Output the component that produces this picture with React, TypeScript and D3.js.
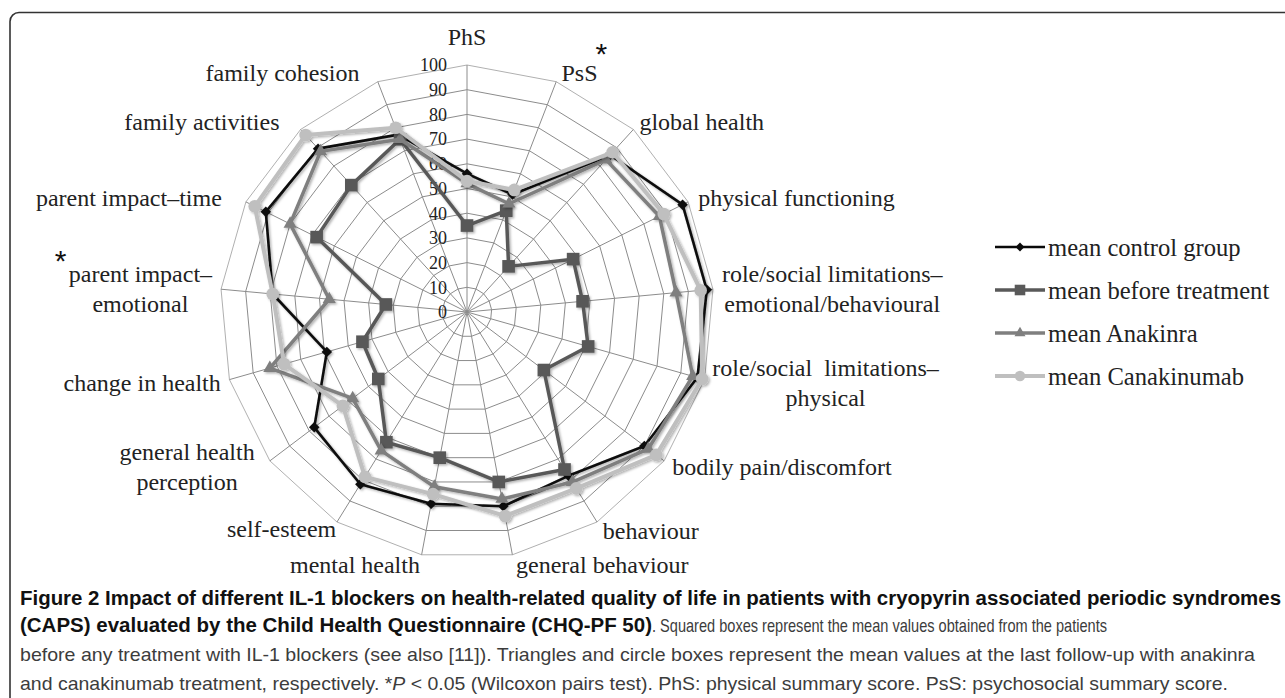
import React from "react";
import * as d3 from "d3";

const width = 1285;
const height = 698;
const cx = 467;
const cy = 312;
const R = 247;

// axis labels, clockwise from the top
const axisLabels: string[][] = [
  ["PhS"],
  ["PsS"],
  ["global health"],
  ["physical functioning"],
  ["role/social limitations–", "emotional/behavioural"],
  ["role/social  limitations–", "physical"],
  ["bodily pain/discomfort"],
  ["behaviour"],
  ["general behaviour"],
  ["mental health"],
  ["self-esteem"],
  ["general health", "perception"],
  ["change in health"],
  ["parent impact–", "emotional"],
  ["parent impact–time"],
  ["family activities"],
  ["family cohesion"]
];
const significant = [false, true, false, false, false, false, false, false, false, false, false, false, false, true, false, false, false];

const controlGroup = [56, 51, 86, 97.5, 97.5, 97, 90, 78, 80, 79, 82, 77.5, 59, 79, 91, 89.5, 77];
const beforeTreatment = [35, 44, 25, 48, 47, 51, 39, 75, 70, 60, 62, 45, 44, 33, 68, 69.5, 75];
const anakinra = [52, 47, 83.5, 87, 85, 95, 92, 81, 77, 72, 66, 58, 83, 56, 80, 88, 75];
const canakinumab = [53, 53, 87.5, 89, 95, 99, 96, 84, 84, 75, 78.5, 63, 77, 79, 96, 97, 80];

const ticks = [0, 10, 20, 30, 40, 50, 60, 70, 80, 90, 100];
const seriesNames = ["mean control group", "mean before treatment", "mean Anakinra", "mean Canakinumab"];

const captionLine1 = "Figure 2 Impact of different IL-1 blockers on health-related quality of life in patients with cryopyrin associated periodic syndromes";
const captionLine2Bold = "(CAPS) evaluated by the Child Health Questionnaire (CHQ-PF 50)";
const captionLine2 = ". Squared boxes represent the mean values obtained from the patients";
const captionLine3 = "before any treatment with IL-1 blockers (see also [11]). Triangles and circle boxes represent the mean values at the last follow-up with anakinra";
const captionLine4 = ["and canakinumab treatment, respectively. *", "P", " < 0.05 (Wilcoxon pairs test). PhS: physical summary score. PsS: psychosocial summary score."];

// label nudges (layout only)
const labelShift: [number, number][] = [
  [0, -18], [2, 0], [0, 0], [2, 0], [0, 0], [-1, 0], [1, 0], [1, 0], [2, 0],
  [0, 0], [4, -2], [-8, 0], [0, 0], [0, 0], [-16, 0], [-15, 0], [-15, 0]
];

const serif = "'Liberation Serif', 'Times New Roman', serif";
const sans = "'Liberation Sans Narrow', 'Liberation Sans', Arial, sans-serif";
const labelSize = 24;

let ctx: CanvasRenderingContext2D | null = null;
function measure(s: string, size: number, family = serif, style = "") {
  if (!ctx) ctx = document.createElement("canvas").getContext("2d");
  if (!ctx) return s.length * size * 0.45;
  ctx.font = `${style} ${size}px ${family}`;
  return ctx.measureText(s).width;
}

const n = axisLabels.length;
const angle = d3.scaleLinear().domain([0, n]).range([0, 2 * Math.PI]);
const r = d3.scaleLinear().domain([0, 100]).range([0, R]);

const polar = (i: number, rad: number): [number, number] => [
  cx + rad * Math.sin(angle(i)),
  cy - rad * Math.cos(angle(i))
];

const radial = d3
  .lineRadial<number>()
  .angle((d, i) => angle(i))
  .radius(d => r(d))
  .curve(d3.curveLinearClosed);

const series = [
  { name: seriesNames[0], values: controlGroup, color: "#0a0a0a", lw: 2.6, sym: d3.symbolSquare, size: 55, rot: 45 },
  { name: seriesNames[1], values: beforeTreatment, color: "#595959", lw: 3.5, sym: d3.symbolSquare, size: 160, rot: 0 },
  { name: seriesNames[2], values: anakinra, color: "#7f7f7f", lw: 3.5, sym: d3.symbolTriangle, size: 75, rot: 0 },
  { name: seriesNames[3], values: canakinumab, color: "#bfbfbf", lw: 4, sym: d3.symbolCircle, size: 125, rot: 0 }
];

export default function App() {
  const ringPts = (v: number) =>
    d3.range(n).map(i => polar(i, r(v)).join(",")).join(" ");

  const labels = axisLabels.map((lines, i) => {
    const s = Math.sin(angle(i));
    const c = Math.cos(angle(i));
    const [ox, oy] = polar(i, R);
    const anchorX = ox + 9 * s + labelShift[i][0];
    const centerY = oy - 10 * c + labelShift[i][1];
    const w = d3.max(lines, l => measure(l, labelSize)) || 0;
    let midX = anchorX;
    if (Math.abs(s) > 0.05) midX = s > 0 ? anchorX + w / 2 : anchorX - w / 2;
    const lh = 30;
    const top = centerY - ((lines.length - 1) * lh) / 2;
    return { lines, midX, top, w, lh, centerY };
  });

  // last caption line: split pieces, squeezed together to the reference width
  const capSize = 19;
  const pieceW = captionLine4.map((p, k) => measure(p, capSize, sans, k === 1 ? "italic" : ""));
  const k4 = 1208 / d3.sum(pieceW);
  let acc = 20;
  const pieces4 = captionLine4.map((p, k) => {
    const x = acc;
    const w = pieceW[k] * k4;
    acc += w;
    return { p, x, w, italic: k === 1 };
  });

  return (
    <svg
      width={width}
      height={height}
      style={{ position: "absolute", left: 0, top: 0, background: "#fff" }}
    >
      <defs>
        <filter id="sh" x="-10%" y="-10%" width="120%" height="120%">
          <feDropShadow dx="1.5" dy="1.5" stdDeviation="1.2" floodColor="#000" floodOpacity="0.3" />
        </filter>
      </defs>
      <rect x={10} y={12.5} width={1400} height={800} rx={9} fill="none" stroke="#333" strokeWidth={1.6} />

      {/* grid rings */}
      {ticks.slice(1).map(v => (
        <polygon
          key={v}
          points={ringPts(v)}
          fill="none"
          stroke={v === 100 ? "#b0b0b0" : "#8c8c8c"}
          strokeWidth={1}
        />
      ))}
      {/* spokes */}
      {d3.range(n).map(i => {
        const [x, y] = polar(i, R);
        return <line key={i} x1={cx} y1={cy} x2={x} y2={y} stroke="#8c8c8c" strokeWidth={1} />;
      })}
      {/* tick labels */}
      {ticks.map(v => (
        <text
          key={v}
          x={cx - 20}
          y={cy - r(v)}
          dy="0.35em"
          textAnchor="end"
          fontFamily={serif}
          fontSize={18}
          fill="#222"
        >
          {v}
        </text>
      ))}

      {/* series */}
      {series.map(s => (
        <g key={s.name} filter="url(#sh)">
          <path
            d={radial(s.values) || ""}
            transform={`translate(${cx},${cy})`}
            fill="none"
            stroke={s.color}
            strokeWidth={s.lw}
            strokeLinejoin="round"
          />
          {s.values.map((v, i) => {
            const [x, y] = polar(i, r(v));
            return (
              <path
                key={i}
                d={d3.symbol(s.sym, s.size)() || ""}
                transform={`translate(${x},${y}) rotate(${s.rot})`}
                fill={s.color}
              />
            );
          })}
        </g>
      ))}

      {/* axis labels */}
      {labels.map((l, i) => (
        <g key={i}>
          {l.lines.map((line, j) => (
            <text
              key={j}
              x={l.midX}
              y={l.top + j * l.lh}
              dy="0.35em"
              textAnchor="middle"
              fontFamily={serif}
              fontSize={labelSize}
              fill="#222"
              style={{ whiteSpace: "pre" }}
            >
              {line}
            </text>
          ))}
          {significant[i] && i === 1 && (
            <text x={l.midX + l.w / 2 - 2} y={l.centerY - 8} fontFamily={sans} fontSize={30} fill="#111">
              *
            </text>
          )}
          {significant[i] && i !== 1 && (
            <text x={l.midX - l.w / 2 - 14} y={l.top - 2} fontFamily={sans} fontSize={30} fill="#111">
              *
            </text>
          )}
        </g>
      ))}

      {/* legend */}
      {series.map((s, k) => {
        const y = 247 + k * 43;
        return (
          <g key={s.name}>
            <line x1={995} x2={1045} y1={y} y2={y} stroke={s.color} strokeWidth={s.lw} />
            <path
              d={d3.symbol(s.sym, s.size * 0.7)() || ""}
              transform={`translate(1020,${y}) rotate(${s.rot})`}
              fill={s.color}
            />
            <text x={1048} y={y} dy="0.35em" fontFamily={serif} fontSize={24.6} fill="#222">
              {s.name}
            </text>
          </g>
        );
      })}

      {/* caption */}
      <g fontFamily={sans} fontSize={20}>
        <text x={20} y={605} fontWeight="bold" fill="#111" textLength={1261} lengthAdjust="spacingAndGlyphs">
          {captionLine1}
        </text>
        <text x={20} y={632} fontWeight="bold" fill="#111" textLength={632} lengthAdjust="spacingAndGlyphs">
          {captionLine2Bold}
        </text>
        <text x={652} y={632} fill="#3c3c3c" fontSize={capSize} textLength={455} lengthAdjust="spacingAndGlyphs">
          {captionLine2}
        </text>
        <text x={20} y={661} fill="#3c3c3c" fontSize={capSize} textLength={1235} lengthAdjust="spacingAndGlyphs">
          {captionLine3}
        </text>
        {pieces4.map(pc => (
          <text
            key={pc.p}
            x={pc.x}
            y={690}
            fill="#3c3c3c"
            fontSize={capSize}
            fontStyle={pc.italic ? "italic" : "normal"}
            textLength={pc.w}
            lengthAdjust="spacingAndGlyphs"
            style={{ whiteSpace: "pre" }}
          >
            {pc.p}
          </text>
        ))}
      </g>
    </svg>
  );
}
